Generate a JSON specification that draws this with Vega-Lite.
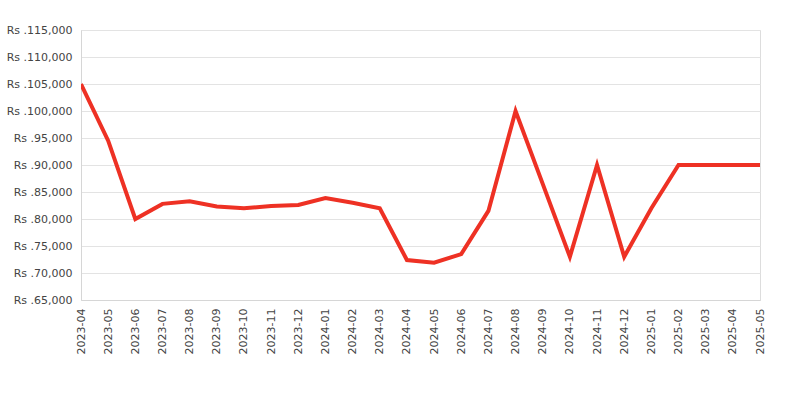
{
  "$schema": "https://vega.github.io/schema/vega-lite/v6.json",
  "width": 679,
  "height": 270,
  "autosize": {"type": "none"},
  "padding": {"left": 81, "top": 30, "right": 40, "bottom": 100},
  "background": "white",
  "config": {
    "view": {"stroke": "#dddddd"},
    "font": "DejaVu Sans",
    "axis": {"labelFont": "DejaVu Sans", "labelFontSize": 11, "labelColor": "#444444", "domainColor": "#d6d6d6", "gridColor": "#e3e3e3", "ticks": false, "title": null, "labelOverlap": false}
  },
  "data": {
    "values": [
      {"month": "2023-04", "price": 104999},
      {"month": "2023-05", "price": 94500},
      {"month": "2023-06", "price": 79999},
      {"month": "2023-07", "price": 82800},
      {"month": "2023-08", "price": 83300},
      {"month": "2023-09", "price": 82300},
      {"month": "2023-10", "price": 82000},
      {"month": "2023-11", "price": 82400},
      {"month": "2023-12", "price": 82600},
      {"month": "2024-01", "price": 83900},
      {"month": "2024-02", "price": 83000},
      {"month": "2024-03", "price": 82000},
      {"month": "2024-04", "price": 72400},
      {"month": "2024-05", "price": 71900},
      {"month": "2024-06", "price": 73500},
      {"month": "2024-07", "price": 81500},
      {"month": "2024-08", "price": 99999},
      {"month": "2024-09", "price": 86500},
      {"month": "2024-10", "price": 72999},
      {"month": "2024-11", "price": 89999},
      {"month": "2024-12", "price": 72999},
      {"month": "2025-01", "price": 82000},
      {"month": "2025-02", "price": 89999},
      {"month": "2025-03", "price": 89999},
      {"month": "2025-04", "price": 89999},
      {"month": "2025-05", "price": 89999}
    ]
  },
  "mark": {"type": "line", "color": "#ee3124", "strokeWidth": 4, "strokeJoin": "miter", "clip": true},
  "encoding": {
    "x": {
      "field": "month",
      "type": "ordinal",
      "scale": {"type": "point", "padding": 0},
      "axis": {"labelAngle": -90, "labelPadding": 8, "grid": false}
    },
    "y": {
      "field": "price",
      "type": "quantitative",
      "scale": {"domain": [65000, 115000], "nice": false, "zero": false},
      "axis": {"values": [65000, 70000, 75000, 80000, 85000, 90000, 95000, 100000, 105000, 110000, 115000], "labelExpr": "'Rs .' + format(datum.value, ',')", "labelPadding": 9, "grid": true}
    }
  }
}
